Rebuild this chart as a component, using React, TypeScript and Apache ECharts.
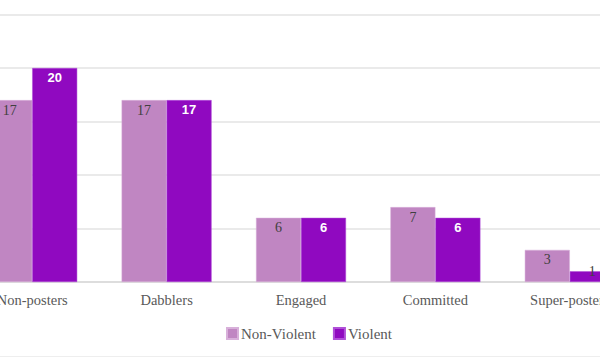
import React, { useEffect, useRef } from "react";
import * as echarts from "echarts";

const categories = ["Non-posters", "Dabblers", "Engaged", "Committed", "Super-posters"];
const nonViolent = [17, 17, 6, 7, 3];
const violent = [20, 17, 6, 6, 1];
const seriesNames = ["Non-Violent", "Violent"];

const LIGHT = "#C086C2";
const DARK = "#9009C0";

export default function App() {
  const ref = useRef<HTMLDivElement>(null);
  useEffect(() => {
    if (!ref.current) return;
    const chart = echarts.init(ref.current, null, { renderer: "svg" });
    const serif = "'Liberation Serif', 'DejaVu Serif', serif";
    chart.setOption({
      animation: false,
      backgroundColor: "#ffffff",
      grid: { left: 0, right: 0, top: 14.5, bottom: 77, containLabel: false },
      legend: {
        left: 256,
        top: 321,
        itemWidth: 11,
        itemHeight: 11,
        itemGap: 17,
        icon: "rect",
        textStyle: { fontFamily: serif, fontSize: 15, color: "#595959", padding: [0, 0, 0, -2] },
        data: seriesNames,
      },
      xAxis: {
        type: "category",
        data: categories,
        axisTick: { show: false },
        axisLine: { lineStyle: { color: "#d9d9d9", width: 1.5 } },
        axisLabel: { fontFamily: serif, fontSize: 14.5, color: "#595959", margin: 10 },
      },
      yAxis: {
        type: "value",
        min: 0,
        max: 25,
        interval: 5,
        axisLabel: { show: false },
        axisLine: { show: false },
        axisTick: { show: false },
        splitLine: { lineStyle: { color: "#e3e3e3", width: 1.5 } },
      },
      series: [
        {
          name: seriesNames[0],
          type: "bar",
          data: nonViolent,
          barWidth: 45,
          barGap: "0%",
          itemStyle: { color: LIGHT, borderColor: "#d8b0da", borderWidth: 0.5 },
          label: {
            show: true,
            position: "insideTop",
            distance: 3,
            fontFamily: serif,
            fontSize: 14,
            color: "#404040",
          },
        },
        {
          name: seriesNames[1],
          type: "bar",
          data: violent.map((v) =>
            v < 2
              ? { value: v, label: { color: "#404040", fontWeight: "normal", fontFamily: serif, fontSize: 14, position: "insideTop", offset: [0, -10] } }
              : v
          ),
          barWidth: 45,
          itemStyle: { color: DARK, borderColor: "#b050d8", borderWidth: 0.5 },
          label: {
            show: true,
            position: "insideTop",
            distance: 3,
            fontFamily: "'Liberation Sans', 'DejaVu Sans', sans-serif",
            fontWeight: "bold",
            fontSize: 13,
            color: "#ffffff",
          },
        },
      ],
    });
    return () => chart.dispose();
  }, []);
  return (
    <div
      style={{
        position: "fixed",
        left: 0,
        top: 0,
        width: 600,
        height: 359,
        overflow: "hidden",
        background: "#fff",
      }}
    >
      <div ref={ref} style={{ position: "absolute", left: -35, top: 0, width: 672, height: 359 }} />
      <div style={{ position: "absolute", left: 0, top: 356, width: 600, height: 1, background: "#eeeeee" }} />
    </div>
  );
}
